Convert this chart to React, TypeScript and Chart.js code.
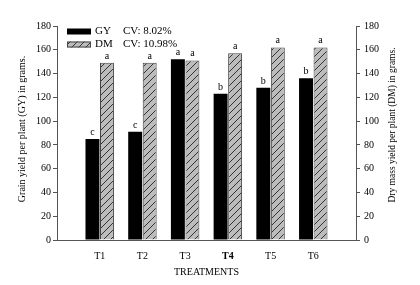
import React, { useEffect, useRef } from "react";
import { Chart, registerables } from "chart.js";

Chart.register(...registerables);

const categories = ["", "T1", "T2", "T3", "T4", "T5", "T6", ""];
const gyValues = [null, 85, 91, 152, 123, 128, 136, null];
const dmValues = [null, 149, 149, 151, 157, 162, 162, null];
const gyLetters = ["", "c", "c", "a", "b", "b", "b", ""];
const dmLetters = ["", "a", "a", "a", "a", "a", "a", ""];
const yTicks = [0, 20, 40, 60, 80, 100, 120, 140, 160, 180];
const legendItems = [
  { name: "GY", cv: "CV: 8.02%" },
  { name: "DM", cv: "CV: 10.98%" },
];
const leftTitle = "Grain yield per plant (GY) in grams.";
const rightTitle = "Dry mass yield per plant (DM) in grams.";
const xTitle = "TREATMENTS";

const FONT = "'Liberation Serif', 'Times New Roman', serif";

function makeHatch(): CanvasPattern | string {
  const c = document.createElement("canvas");
  const s = 7;
  c.width = s;
  c.height = s;
  const g = c.getContext("2d");
  if (!g) return "#bbb";
  g.fillStyle = "#bcbcbc";
  g.fillRect(0, 0, s, s);
  g.strokeStyle = "#333";
  g.lineWidth = 1;
  g.beginPath();
  g.moveTo(-1, s + 1);
  g.lineTo(s + 1, -1);
  g.moveTo(-1 - s, s + 1);
  g.lineTo(1, -1);
  g.moveTo(s - 1, s + 1);
  g.lineTo(2 * s + 1, -1);
  g.stroke();
  const p = g.createPattern(c, "repeat");
  return p || "#bbb";
}

export default function App() {
  const ref = useRef<HTMLCanvasElement | null>(null);

  useEffect(() => {
    if (!ref.current) return;
    const hatch = makeHatch();
    const overlay = {
      id: "overlay",
      afterDatasetsDraw(chart: any) {
        const ctx = chart.ctx as CanvasRenderingContext2D;
        const area = chart.chartArea;
        ctx.save();
        ctx.fillStyle = "#000";
        ctx.font = `10px ${FONT}`;
        ctx.textAlign = "center";
        ctx.textBaseline = "alphabetic";
        const letterSets = [gyLetters, dmLetters];
        letterSets.forEach((letters, di) => {
          const meta = chart.getDatasetMeta(di);
          meta.data.forEach((el: any, j: number) => {
            const t = letters[j];
            if (!t || el == null || isNaN(el.y)) return;
            ctx.fillText(t, el.x, el.y - 4);
          });
        });
        // legend
        const lx = area.left + 10;
        const rows = [area.top + 5.5, area.top + 18.5];
        legendItems.forEach((it, i) => {
          const cy = rows[i];
          if (i === 0) {
            ctx.fillStyle = "#000";
            ctx.fillRect(lx, cy - 3, 24, 6);
          } else {
            ctx.fillStyle = hatch as any;
            ctx.fillRect(lx, cy - 3, 24, 6);
            ctx.strokeStyle = "#444";
            ctx.lineWidth = 1;
            ctx.strokeRect(lx + 0.5, cy - 2.5, 23, 5);
          }
          ctx.fillStyle = "#000";
          ctx.font = `11px ${FONT}`;
          ctx.textAlign = "left";
          ctx.textBaseline = "middle";
          ctx.fillText(it.name, lx + 28, cy);
          ctx.fillText(it.cv, lx + 56, cy);
        });
        // titles
        ctx.font = `10px ${FONT}`;
        ctx.textAlign = "center";
        ctx.textBaseline = "middle";
        ctx.save();
        ctx.translate(22, 129);
        ctx.rotate(-Math.PI / 2);
        ctx.fillText(leftTitle, 0, 0);
        ctx.restore();
        ctx.save();
        ctx.font = `9.5px ${FONT}`;
        ctx.translate(392, 125);
        ctx.rotate(-Math.PI / 2);
        ctx.fillText(rightTitle, 0, 0);
        ctx.restore();
        ctx.fillText(xTitle, (area.left + area.right) / 2, 272);
        ctx.restore();
      },
    };

    const yScale = (pos: "left" | "right", width: number) => ({
      type: "linear" as const,
      position: pos,
      min: 0,
      max: 180,
      afterBuildTicks: (s: any) => {
        s.ticks = yTicks.map((v) => ({ value: v }));
      },
      afterFit: (s: any) => {
        s.width = width;
      },
      ticks: {
        color: "#000",
        font: { family: FONT, size: 10 },
        padding: pos === "left" ? 2 : 4,
      },
      grid: {
        drawOnChartArea: false,
        drawTicks: true,
        tickLength: 4,
        color: "#555",
      },
      border: { display: true, color: "#555" },
    });

    const chart = new Chart(ref.current, {
      type: "bar",
      data: {
        labels: categories,
        datasets: [
          {
            label: "GY",
            data: gyValues as any,
            backgroundColor: "#000",
            borderWidth: 0,
            yAxisID: "y",
            categoryPercentage: 0.68,
            barPercentage: 0.96,
          },
          {
            label: "DM",
            data: dmValues as any,
            backgroundColor: hatch as any,
            borderColor: "#444",
            borderWidth: 1,
            yAxisID: "y1",
            categoryPercentage: 0.68,
            barPercentage: 0.96,
          },
        ],
      },
      options: {
        responsive: false,
        animation: false,
        layout: { padding: { top: 26, left: 0, right: 0, bottom: 0 } },
        plugins: {
          legend: { display: false },
          tooltip: { enabled: false },
          title: { display: false },
        },
        scales: {
          x: {
            offset: false,
            afterFit: (s: any) => {
              s.height = 45;
            },
            ticks: {
              color: "#000",
              padding: 10,
              maxRotation: 0,
              autoSkip: false,
              font: (c: any) => ({
                family: FONT,
                size: 10,
                weight: c.tick && c.tick.label === "T4" ? "bold" : "normal",
              }),
            },
            grid: { drawOnChartArea: false, drawTicks: false, display: true },
            border: { display: true, color: "#555" },
          },
          y: yScale("left", 57) as any,
          y1: yScale("right", 64) as any,
        },
      },
      plugins: [overlay],
    });
    return () => chart.destroy();
  }, []);

  return (
    <div style={{ position: "fixed", left: 0, top: 0, width: 420, height: 285, background: "#fff" }}>
      <canvas ref={ref} width={420} height={285} />
    </div>
  );
}
